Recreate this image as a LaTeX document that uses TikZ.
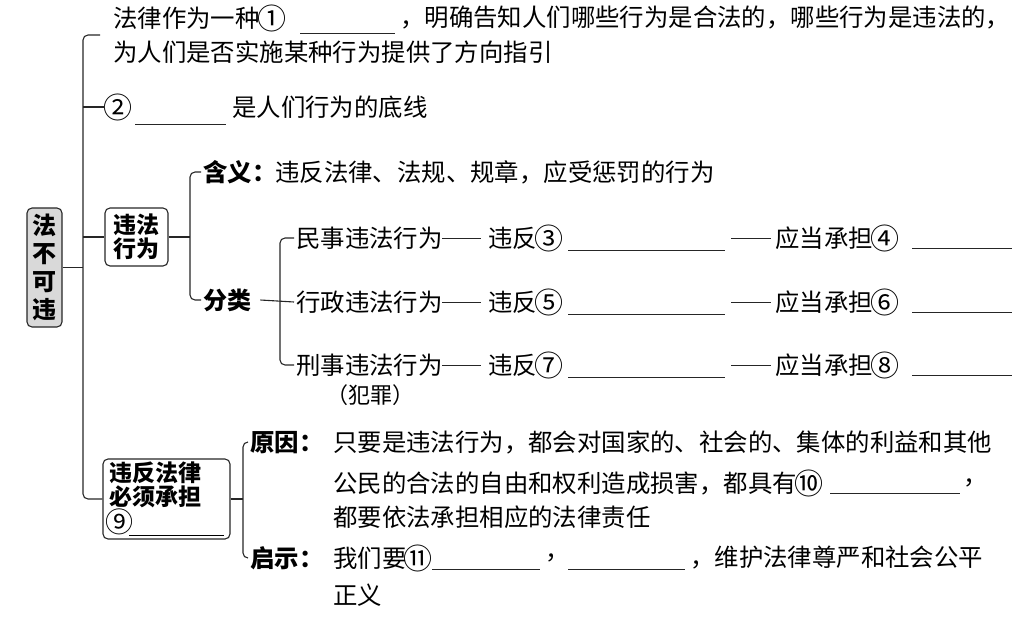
\documentclass[tikz,border=0pt]{standalone}
\usepackage{fontspec}
\setmainfont{Noto Sans CJK SC}
\newcommand{\cir}[1]{\makebox[24pt][c]{\fontsize{29}{29}\selectfont\raisebox{-1.5pt}{#1}}}
\newcommand{\lab}[2]{\makebox[#1][l]{\bfseries #2}}
\begin{document}
\begin{tikzpicture}[x=1pt,y=-1pt,
  ln/.style={line width=1.1pt, black!85},
  blank/.style={line width=1pt, black!85},
  t/.style={anchor=west, inner sep=0pt, font=\fontsize{24.4}{26}\selectfont},
  box/.style={draw=black!85, line width=1.1pt, rounded corners=5pt, inner sep=0pt, font=\fontsize{23}{24}\selectfont\bfseries},
  brk/.style={ln, rounded corners=5pt}
]
\useasboundingbox (0,0) rectangle (1033,616);

% top lines
\node[t] (l1a) at (113,18) {法律作为一种\cir{①}};
\draw[blank] (300,33) -- (395,33);
\node[t] (l1b) at (400,18) {，明确告知人们哪些行为是合法的，哪些行为是违法的，};
\node[t] (l2) at (113,52) {为人们是否实施某种行为提供了方向指引};

\node[t] (n2) at (106,107) {\cir{②}};
\draw[blank] (135,124) -- (226,124);
\node[t] (n2b) at (232,107) {是人们行为的底线};

% root
\node[box, fill=black!15, minimum width=35pt, minimum height=119pt, align=center,
      font=\fontsize{24}{28}\selectfont\bfseries] (root) at (44.5,267.5) {法\\不\\可\\违};

% 违法行为 box
\node[box, minimum width=63pt, minimum height=58pt, align=center] (wf) at (136.5,237) {违法\\行为};

% 违反法律必须承担 box
\node[box, minimum width=127pt, minimum height=80pt, text width=115pt, align=left] (b9) at (166.5,499)
  {违反法律\\必须承担\\{\mdseries\makebox[20pt][c]{\fontsize{28}{28}\selectfont\raisebox{-1.5pt}{⑨}}}\rule[-5pt]{95pt}{0.9pt}};

% main bracket
\coordinate (top) at (100,35);
\draw[brk] (top) -- (83,35) -- (83,499) -- (b9.west);
\draw[ln] (83,107) -- ([xshift=-1pt]n2.west);
\draw[ln] (root.east) -- (83,267.5);
\draw[ln] (83,237) -- (wf.west);

% 违法行为 branch
\node[t] (hy) at (203,172) {\lab{72pt}{含义：}违反法律、法规、规章，应受惩罚的行为};
\node[t, font=\fontsize{24}{26}\selectfont\bfseries] (fl) at (203,300) {分类};
\draw[ln] (wf.east) -- (190,237);
\draw[brk] ([xshift=-2pt]hy.west) -- (190,172) -- (190,300) -- ([xshift=-2pt]fl.west);

\node[t] (ms) at (296,238) {民事违法行为};
\node[t] (xz) at (296,302) {行政违法行为};
\node[t] (xs) at (296,365) {刑事违法行为};
\node[t, font=\fontsize{22}{24}\selectfont] (fz) at (326,395) {（犯罪）};
\draw[ln] ([xshift=9pt]fl.east) -- ([xshift=-2pt]xz.west);
\draw[brk] ([xshift=-2pt]ms.west) -- (280,238) -- (280,365) -- ([xshift=-2pt]xs.west);

% rows
\foreach \y/\a/\b/\n in {238/③/④/r1, 302/⑤/⑥/r2, 365/⑦/⑧/r3}{
  \node[t] (\n a) at (488,\y) {违反\cir{\a}};
  \draw[blank] (442,\y) -- ([xshift=-7pt]\n a.west);
  \draw[blank] (568,\y+12) -- (725,\y+12);
  \node[t] (\n b) at (775,\y) {应当承担\cir{\b}};
  \draw[blank] (731,\y) -- ([xshift=-4pt]\n b.west);
  \draw[blank] (912,\y+10) -- (1012,\y+10);
}

% bottom branch
\node[t] (yy) at (250,442) {\lab{83pt}{原因：}只要是违法行为，都会对国家的、社会的、集体的利益和其他};
\node[t] (yy2) at (333,483) {公民的合法的自由和权利造成损害，都具有\cir{⑩}};
\draw[blank] (830,493) -- (960,493);
\node[t] (yy3) at (963,483) {，};
\node[t] (yy4) at (333,517) {都要依法承担相应的法律责任};
\node[t] (qs) at (250,558) {\lab{83pt}{启示：}我们要\cir{⑪}};
\draw[blank] (432,569) -- (540,569);
\node[t] (qs2) at (545,558) {，};
\draw[blank] (568,569) -- (685,569);
\node[t] (qs3) at (690,558) {，维护法律尊严和社会公平};
\node[t] (qs4) at (333,595) {正义};
\draw[ln] (b9.east) -- (243,499);
\draw[brk] ([xshift=-2pt]yy.west) -- (243,442) -- (243,558) -- ([xshift=-2pt]qs.west);
\end{tikzpicture}
\end{document}
